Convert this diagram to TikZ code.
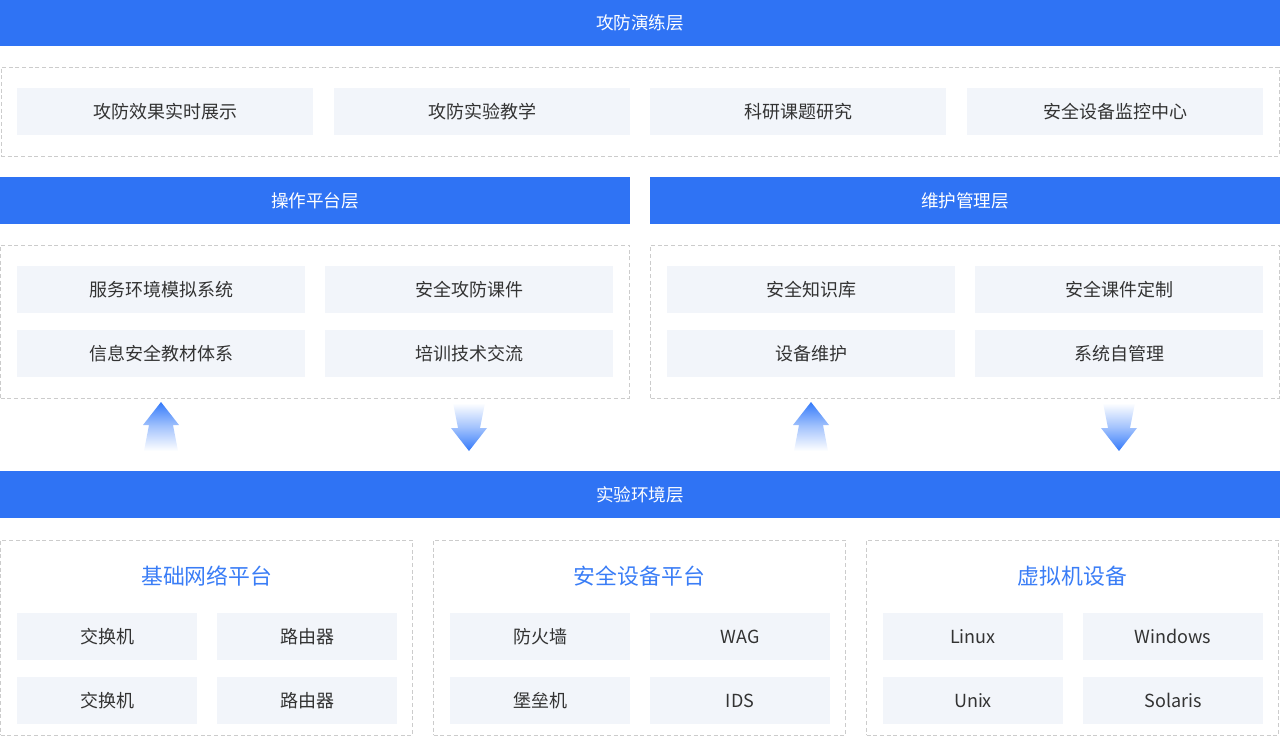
\documentclass[tikz,border=0pt]{standalone}
\usepackage{fontspec}
\setmainfont{Noto Sans CJK SC}
\usepackage{tikz}
\usetikzlibrary{shapes}
\usepackage{xcolor}
\definecolor{barblue}{RGB}{47,115,244}
\definecolor{titleblue}{RGB}{58,125,246}
\definecolor{arrowblue}{RGB}{52,122,250}
\definecolor{itemgray}{RGB}{242,245,250}
\definecolor{dashgray}{RGB}{204,204,204}
\definecolor{textgray}{RGB}{51,51,51}
\tikzset{
  layerbar/.style={fill=barblue, text=white, inner sep=0pt, minimum height=35.25pt,
    font=\fontsize{13.2}{15}\selectfont},
  panel/.style={draw=dashgray, dashed, dash pattern=on 3pt off 2pt, line width=0.6pt, inner sep=0pt},
  item/.style={fill=itemgray, text=textgray, inner sep=0pt, minimum height=35.25pt,
    font=\fontsize{13.5}{15}\selectfont},
  wideitem/.style={item, minimum width=222pt},
  miditem/.style={item, minimum width=216pt},
  smallitem/.style={item, minimum width=135pt},
  grouptitle/.style={text=titleblue, font=\fontsize{16.4}{18}\selectfont}
}

\begin{document}
\begin{tikzpicture}[x=0.75pt, y=-0.75pt]
        \useasboundingbox (0,0) rectangle (1280,736);
        % exercise layer
        \node[layerbar, minimum width=960pt, minimum height=34.5pt] (drill) at (640,23) {攻防演练层};
        \node[panel, minimum width=958.5pt, minimum height=66.75pt] (drillpanel) at (640,111.5) {};
        \node[wideitem] (show) at (165,111.5) {攻防效果实时展示};
        \node[wideitem] (teach) at (482,111.5) {攻防实验教学};
        \node[wideitem] (research) at (798,111.5) {科研课题研究};
        \node[wideitem] (monitor) at (1115,111.5) {安全设备监控中心};
        % operation and maintenance layers
        \node[layerbar, minimum width=472.5pt] (oper) at (315,200.5) {操作平台层};
        \node[layerbar, minimum width=472.5pt] (maint) at (965,200.5) {维护管理层};
        \node[panel, minimum width=471.75pt, minimum height=114.75pt] (operpanel) at (315,321.5) {};
        \node[panel, minimum width=471.75pt, minimum height=114.75pt] (maintpanel) at (965,321.5) {};
        \node[miditem] (simsys) at (161,289.5) {服务环境模拟系统};
        \node[miditem] (course) at (469,289.5) {安全攻防课件};
        \node[miditem] (books) at (161,353.5) {信息安全教材体系};
        \node[miditem] (training) at (469,353.5) {培训技术交流};
        \node[miditem] (knowledge) at (811,289.5) {安全知识库};
        \node[miditem] (custom) at (1119,289.5) {安全课件定制};
        \node[miditem] (devmaint) at (811,353.5) {设备维护};
        \node[miditem] (selfmgmt) at (1119,353.5) {系统自管理};
        % arrows between layers
        \shade[top color=arrowblue, bottom color=white, middle color=arrowblue!45]
          (161,402) -- (179,425) -- (173,425) -- (178,451) -- (144,451) -- (149,425) -- (143,425) -- cycle;
        \shade[top color=white, bottom color=arrowblue, middle color=arrowblue!45]
          (453,403) -- (485,403) -- (480,428) -- (487,428) -- (469,451) -- (451,428) -- (458,428) -- cycle;
        \shade[top color=arrowblue, bottom color=white, middle color=arrowblue!45]
          (811,402) -- (829,425) -- (823,425) -- (828,451) -- (794,451) -- (799,425) -- (793,425) -- cycle;
        \shade[top color=white, bottom color=arrowblue, middle color=arrowblue!45]
          (1103,403) -- (1135,403) -- (1130,428) -- (1137,428) -- (1119,451) -- (1101,428) -- (1108,428) -- cycle;
        % experiment environment layer
        \node[layerbar, minimum width=960pt] (env) at (640,494.5) {实验环境层};
        \node[panel, minimum width=309pt, minimum height=146.25pt] (netpanel) at (206.75,637.5) {};
        \node[panel, minimum width=309pt, minimum height=146.25pt] (secpanel) at (639.5,637.5) {};
        \node[panel, minimum width=309pt, minimum height=146.25pt] (vmpanel) at (1072.5,637.5) {};
        \node[grouptitle] (nettitle) at (206.75,576) {基础网络平台};
        \node[grouptitle] (sectitle) at (639.5,576) {安全设备平台};
        \node[grouptitle] (vmtitle) at (1072.5,576) {虚拟机设备};
        \node[smallitem] (switcha) at (107,636.5) {交换机};
        \node[smallitem] (routera) at (307,636.5) {路由器};
        \node[smallitem] (switchb) at (107,700.5) {交换机};
        \node[smallitem] (routerb) at (307,700.5) {路由器};
        \node[smallitem] (firewall) at (540,636.5) {防火墙};
        \node[smallitem] (wag) at (740,636.5) {WAG};
        \node[smallitem] (bastion) at (540,700.5) {堡垒机};
        \node[smallitem] (ids) at (740,700.5) {IDS};
        \node[smallitem] (linux) at (973,636.5) {Linux};
        \node[smallitem] (windows) at (1173,636.5) {Windows};
        \node[smallitem] (unix) at (973,700.5) {Unix};
        \node[smallitem] (solaris) at (1173,700.5) {Solaris};
    \end{tikzpicture}
\end{document}
